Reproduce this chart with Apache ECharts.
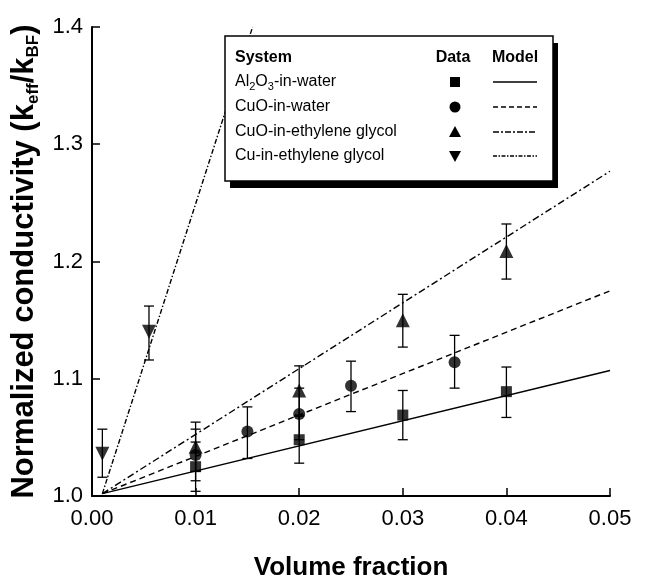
<!DOCTYPE html>
<html>
<head>
<meta charset="utf-8">
<script src="https://cdn.jsdelivr.net/npm/echarts@6/dist/echarts.min.js"></script>
<style>
  html, body { margin: 0; padding: 0; background: #fff; }
  #chart { width: 649px; height: 586px; }
</style>
</head>
<body>
<div id="chart"></div>
<script>
// measured points (x = volume fraction, y = k_eff/k_BF), error bars lo/hi
const alX = [0.01, 0.02, 0.03, 0.04];
const alY = [1.025, 1.048, 1.069, 1.089];
const alLo = [1.004, 1.028, 1.048, 1.067];
const alHi = [1.046, 1.069, 1.090, 1.110];

const cuoWX = [0.01, 0.015, 0.02, 0.025, 0.035];
const cuoWY = [1.035, 1.055, 1.070, 1.094, 1.114];
const cuoWLo = [1.013, 1.032, 1.048, 1.072, 1.092];
const cuoWHi = [1.057, 1.076, 1.092, 1.115, 1.137];

const cuoEX = [0.01, 0.02, 0.03, 0.04];
const cuoEY = [1.042, 1.090, 1.150, 1.209];
const cuoELo = [1.021, 1.068, 1.127, 1.185];
const cuoEHi = [1.063, 1.111, 1.172, 1.232];

const cuX = [0.001, 0.0055];
const cuY = [1.036, 1.140];
const cuLo = [1.016, 1.116];
const cuHi = [1.057, 1.162];

// model lines (start / end points)
const alModel = [[0.001, 1.002], [0.05, 1.107]];
const cuoWModel = [[0.001, 1.002], [0.05, 1.175]];
const cuoEModel = [[0.001, 1.002], [0.05, 1.277]];
const cuModel = [[0.001, 1.002], [0.0155, 1.4]];

const xTicks = [0, 0.01, 0.02, 0.03, 0.04, 0.05];
const yTicks = [1.0, 1.1, 1.2, 1.3, 1.4];

const FONT = "'Liberation Sans', Arial, sans-serif";

let myChart = echarts.init(document.getElementById("chart"));

function pts(xs, ys) {
  return xs.map((x, i) => [x, ys[i]]);
}
function bars(xs, lo, hi) {
  return xs.map((x, i) => [x, lo[i], hi[i]]);
}

function errBar(params, api) {
  const x = api.value(0);
  const lo = api.coord([x, api.value(1)]);
  const hi = api.coord([x, api.value(2)]);
  const w = 5;
  const st = { stroke: "#000", lineWidth: 1.3 };
  return {
    type: "group",
    children: [
      { type: "line", shape: { x1: lo[0], y1: lo[1], x2: hi[0], y2: hi[1] }, style: st },
      { type: "line", shape: { x1: lo[0] - w, y1: lo[1], x2: lo[0] + w, y2: lo[1] }, style: st },
      { type: "line", shape: { x1: hi[0] - w, y1: hi[1], x2: hi[0] + w, y2: hi[1] }, style: st },
    ],
  };
}

function modelSeries(data, dash) {
  return {
    type: "line",
    data: data,
    symbol: "none",
    silent: true,
    z: 2,
    lineStyle: { color: "#000", width: 1.4, type: dash },
  };
}
function barSeries(data) {
  return {
    type: "custom",
    renderItem: errBar,
    data: data,
    encode: { x: 0, y: [1, 2] },
    z: 3,
    silent: true,
  };
}
function markSeries(data, symbol, size, rotate) {
  return {
    type: "scatter",
    data: data,
    symbol: symbol,
    symbolSize: size,
    symbolRotate: rotate || 0,
    itemStyle: { color: "#000" },
    z: 4,
  };
}

// legend box (table: System / Data / Model)
const LZ = 50;
function ltext(txt, x, y, bold, align) {
  return {
    type: "text", x: x, y: y, z: LZ + 2,
    style: {
      text: txt, fontSize: 16, fontFamily: FONT, fontWeight: bold ? "bold" : "normal",
      fill: "#000", align: align || "left", verticalAlign: "middle",
      textAlign: align || "left", textVerticalAlign: "middle",
      rich: {
        n: { fontSize: 16, fontFamily: FONT, lineHeight: 20 },
        s: { fontSize: 11, fontFamily: FONT, verticalAlign: "bottom", lineHeight: 8 },
      },
    },
  };
}
function lline(y, dash) {
  return {
    type: "line", z: LZ + 2,
    shape: { x1: 493, y1: y, x2: 537, y2: y },
    style: { stroke: "#000", lineWidth: 1.4, lineDash: dash },
  };
}
const rows = [82, 107, 132, 156];
const mx = 455;

myChart.setOption({
  animation: false,
  backgroundColor: "#fff",
  grid: { left: 92, right: 39, top: 27, bottom: 88 },
  xAxis: {
    type: "value",
    min: xTicks[0],
    max: xTicks[xTicks.length - 1],
    interval: 0.01,
    name: "Volume fraction",
    nameLocation: "middle",
    nameGap: 59,
    nameTextStyle: { fontSize: 26, fontWeight: "bold", color: "#000", fontFamily: FONT },
    axisLine: { lineStyle: { color: "#000", width: 2 } },
    axisTick: { inside: true, length: 8, lineStyle: { color: "#000", width: 1.5 } },
    axisLabel: {
      formatter: (v) => v.toFixed(2),
      fontSize: 22, color: "#000", margin: 12, fontFamily: FONT,
    },
    splitLine: { show: false },
  },
  yAxis: {
    type: "value",
    min: yTicks[0],
    max: yTicks[yTicks.length - 1],
    interval: 0.1,
    name: "{b|Normalized conductivity (k}{s|eff}{b|/k}{s|BF}{b|)}",
    nameLocation: "middle",
    nameRotate: 90,
    nameGap: 45,
    nameTextStyle: {
      rich: {
        b: { fontSize: 31, fontWeight: "bold", color: "#000", fontFamily: FONT, lineHeight: 34 },
        s: { fontSize: 17, fontWeight: "bold", color: "#000", fontFamily: FONT, lineHeight: 14, verticalAlign: "bottom" },
      },
    },
    axisLine: { lineStyle: { color: "#000", width: 2 } },
    axisTick: { inside: true, length: 8, lineStyle: { color: "#000", width: 1.5 } },
    axisLabel: {
      formatter: (v) => v.toFixed(1),
      fontSize: 22, color: "#000", margin: 9, fontFamily: FONT,
    },
    splitLine: { show: false },
  },
  series: [
    modelSeries(alModel, "solid"),
    modelSeries(cuoWModel, [6, 4]),
    modelSeries(cuoEModel, [7, 3, 2, 3]),
    modelSeries(cuModel, [5, 2, 1.5, 2]),
    barSeries(bars(alX, alLo, alHi)),
    barSeries(bars(cuoWX, cuoWLo, cuoWHi)),
    barSeries(bars(cuoEX, cuoELo, cuoEHi)),
    barSeries(bars(cuX, cuLo, cuHi)),
    markSeries(pts(alX, alY), "rect", 11),
    markSeries(pts(cuoWX, cuoWY), "circle", 12),
    markSeries(pts(cuoEX, cuoEY), "triangle", 14),
    markSeries(pts(cuX, cuY), "triangle", 14, 180),
  ],
  graphic: [
    { type: "rect", z: LZ, shape: { x: 230, y: 43, width: 328, height: 145 }, style: { fill: "#000" } },
    { type: "rect", z: LZ + 1, shape: { x: 225, y: 36, width: 328, height: 145 }, style: { fill: "#fff", stroke: "#000", lineWidth: 1.5 } },
    ltext("System", 235, 58, true),
    ltext("Data", 453, 58, true, "center"),
    ltext("Model", 515, 58, true, "center"),
    ltext("{n|Al}{s|2}{n|O}{s|3}{n|-in-water}", 235, rows[0], false),
    ltext("CuO-in-water", 235, rows[1], false),
    ltext("CuO-in-ethylene glycol", 235, rows[2], false),
    ltext("Cu-in-ethylene glycol", 235, rows[3], false),
    { type: "rect", z: LZ + 2, shape: { x: mx - 5, y: rows[0] - 5, width: 10, height: 10 }, style: { fill: "#000" } },
    { type: "circle", z: LZ + 2, shape: { cx: mx, cy: rows[1], r: 5.5 }, style: { fill: "#000" } },
    { type: "polygon", z: LZ + 2, shape: { points: [[mx, rows[2] - 6], [mx + 6, rows[2] + 5], [mx - 6, rows[2] + 5]] }, style: { fill: "#000" } },
    { type: "polygon", z: LZ + 2, shape: { points: [[mx, rows[3] + 6], [mx + 6, rows[3] - 5], [mx - 6, rows[3] - 5]] }, style: { fill: "#000" } },
    lline(rows[0], null),
    lline(rows[1], [5, 3]),
    lline(rows[2], [6, 2, 2, 2]),
    lline(rows[3], [4, 1.5, 1.5, 1.5]),
  ],
});
</script>
</body>
</html>
